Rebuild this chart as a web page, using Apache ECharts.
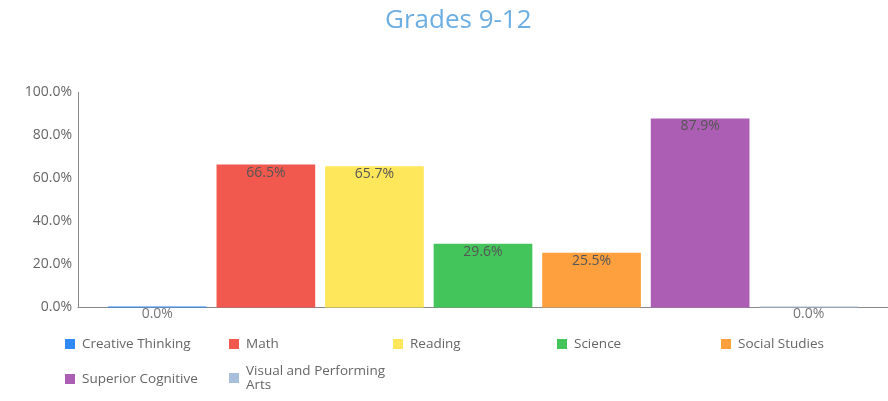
<!DOCTYPE html>
<html>
<head>
<meta charset="utf-8">
<script src="https://cdn.jsdelivr.net/npm/echarts@6/dist/echarts.min.js"></script>
<style>
  html, body { margin: 0; padding: 0; background: #fff; }
  #chart { width: 888px; height: 401px; }
</style>
</head>
<body>
<div id="chart"></div>
<script>
// Share of students identified in each area, grades 9-12 (percent)
const subjects = ['Creative Thinking', 'Math', 'Reading', 'Science', 'Social Studies', 'Superior Cognitive', 'Visual and Performing Arts'];
const percents = [0.0, 66.5, 65.7, 29.6, 25.5, 87.9, 0.0];
const subjectColors = ['#2f8af5', '#f2594e', '#ffe75b', '#44c55b', '#ffa03f', '#ac5eb4', '#a7bedc'];
const yTicks = [0, 20, 40, 60, 80, 100];

const FONT = '"Open Sans", "Noto Sans", sans-serif';

const series = subjects.map((name, i) => ({
  name: name,
  type: 'bar',
  data: [percents[i]],
  barGap: '10%',
  barCategoryGap: '7.4%',
  barMinHeight: 1,
  itemStyle: { color: subjectColors[i] },
  label: {
    show: true,
    position: 'insideTop',
    distance: 1,
    color: percents[i] === 0 ? '#777' : '#555',
    fontFamily: FONT,
    fontSize: 14,
    formatter: p => p.value.toFixed(1) + '%'
  }
}));

// Legend laid out as a grid: five columns, 164px apart
const legendCols = 5;
const legendColWidth = 164;
const legendTextStyle = {
  color: '#666',
  fontFamily: FONT,
  fontSize: 13.5,
  width: 147,
  overflow: 'break',
  padding: [0, 0, 0, 2]
};
const legends = subjects.map((name, i) => {
  const col = i % legendCols;
  const row = Math.floor(i / legendCols);
  const twoLines = name.length > 22;
  return {
    data: [name],
    left: 60 + col * legendColWidth,
    top: row === 0 ? 332 : (twoLines ? 359 : 367),
    itemWidth: 10,
    itemHeight: 10,
    icon: 'rect',
    textStyle: legendTextStyle
  };
});

const chart = echarts.init(document.getElementById('chart'));
chart.setOption({
  animation: false,
  title: {
    text: 'Grades 9-12',
    left: 380,
    top: 3,
    textStyle: { color: '#6daee2', fontFamily: FONT, fontSize: 26, fontWeight: 'normal' }
  },
  grid: { left: 78, right: -3, top: 92.5, bottom: 93.5, containLabel: false },
  legend: legends,
  xAxis: {
    type: 'category',
    data: [''],
    axisLine: { lineStyle: { color: '#888', width: 1 } },
    axisTick: { show: false },
    axisLabel: { show: false }
  },
  yAxis: {
    type: 'value',
    min: yTicks[0],
    max: yTicks[yTicks.length - 1],
    interval: yTicks[1] - yTicks[0],
    axisLine: { show: true, lineStyle: { color: '#888', width: 1 } },
    axisTick: { show: false },
    splitLine: { show: false },
    axisLabel: {
      color: '#666',
      fontFamily: FONT,
      fontSize: 14,
      margin: 6,
      formatter: v => v.toFixed(1) + '%'
    }
  },
  series: series
});
</script>
</body>
</html>
